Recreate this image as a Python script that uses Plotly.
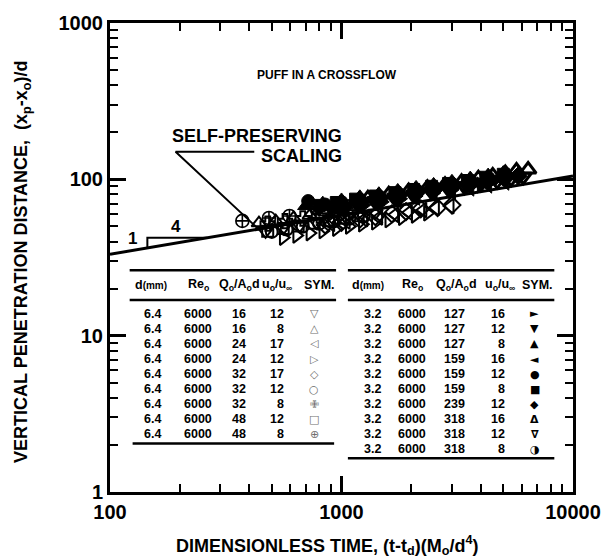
import plotly.graph_objects as go

# ---------------- data ----------------
# open symbols: d = 6.4 mm
s1_x = [470, 560, 660, 780, 900, 1050, 1200, 1400]            # 16 / 12
s1_y = [46.5, 48.8, 50.5, 53.0, 54.8, 56.7, 58.5, 61.0]
s2_x = [440, 520, 620, 730, 860, 1000, 1150]                  # 16 / 8
s2_y = [52.5, 54.0, 56.5, 58.8, 61.5, 63.5, 66.5]
s3_x = [900, 1050, 1250, 1450, 1700, 1950, 2250, 2550, 2950]  # 24 / 17
s3_y = [51.8, 53.8, 55.5, 57.0, 59.3, 61.3, 63.6, 65.6, 67.3]
s4_x = [560, 640, 730, 830, 950, 1080, 1230, 1400, 1600, 1830, 2080, 2350]  # 24 / 12
s4_y = [42.4, 43.8, 45.3, 46.7, 48.4, 50.0, 51.6, 53.2, 55.0, 56.9, 58.8, 60.7]
s5_x = [850, 1000, 1200, 1400, 1650, 1900, 2200, 2600, 3000]  # 32 / 17
s5_y = [51.0, 53.1, 55.6, 57.7, 60.1, 62.2, 64.7, 65.9, 68.4]
s6_x = [500, 580, 680, 800, 930, 1080, 1250]                  # 32 / 12
s6_y = [46.1, 47.8, 49.8, 51.9, 53.9, 56.0, 58.0]
s7_x = [480, 570, 680, 800, 950, 1100]                        # 32 / 8
s7_y = [52.1, 54.0, 56.2, 58.6, 61.2, 63.5]
s8_x = [480, 560, 650, 760, 880, 1020, 1180]                  # 48 / 12
s8_y = [46.6, 48.5, 50.3, 52.3, 54.3, 56.3, 58.5]
s9_x = [373, 486, 596, 777, 950]                              # 48 / 8
s9_y = [54.2, 56.6, 58.3, 65.0, 67.0]
# filled symbols: d = 3.2 mm
f1_x = [900, 1050, 1250, 1500, 1800, 2100, 2500, 3000, 3500, 4000]          # 127 / 16
f1_y = [63.4, 65.8, 68.6, 71.8, 75.1, 78.1, 81.6, 85.5, 88.7, 91.9]
f2_x = [800, 950, 1150, 1400, 1700, 2050, 2450, 2900, 3400, 4000, 4600]     # 127 / 12
f2_y = [64.2, 67.0, 70.4, 73.7, 77.5, 81.2, 85.0, 88.7, 92.1, 96.0, 99.5]
f3_x = [700, 830, 1000, 1200, 1450, 1750, 2100, 2500, 3000, 3600, 4300, 5000]  # 127 / 8
f3_y = [67.5, 70.4, 73.8, 77.3, 80.9, 84.9, 88.8, 92.8, 97.1, 101.8, 106.4, 110.4]
f4_x = [1000, 1200, 1450, 1750, 2100, 2500, 3000, 3600, 4300, 5100]         # 159 / 16
f4_y = [63.7, 66.7, 69.9, 73.3, 76.7, 80.1, 83.9, 87.9, 91.9, 95.9]
f5_x = [718, 850, 1000, 1200, 1450, 1750, 2100, 2500, 3000, 3600]           # 159 / 12
f5_y = [72.6, 69.0, 71.5, 74.0, 77.5, 81.0, 85.2, 88.5, 93.0, 97.5]
f6_x = [800, 950, 1150, 1400, 1700, 2050, 2450, 2900, 3500, 4200, 5000]     # 159 / 8
f6_y = [68.1, 71.1, 74.7, 78.2, 82.2, 86.1, 90.2, 94.1, 98.3, 103.1, 107.7]
f7_x = [1000, 1200, 1450, 1750, 2100, 2500, 3000, 3600, 4300, 5100, 5800]   # 239 / 12
f7_y = [67.9, 71.1, 74.4, 78.1, 81.7, 85.3, 89.4, 93.6, 97.9, 102.1, 105.2]
f8_x = [1300, 1600, 1950, 2350, 2800, 3300, 3900, 4500, 5100, 5700, 6400]   # 318 / 16
f8_y = [75.6, 80.2, 84.3, 88.4, 92.3, 96.4, 101.5, 105.8, 110.0, 113.8, 115.5]
f9_x = [1400, 1700, 2050, 2450, 2900, 3400, 4000, 4700, 5400, 6100]         # 318 / 12
f9_y = [71.8, 75.5, 79.1, 82.8, 86.4, 89.7, 93.5, 97.4, 100.9, 103.9]
f10_x = [1200, 1450, 1750, 2100, 2500, 3000, 3600, 4300, 5000]              # 318 / 8
f10_y = [72.9, 76.3, 80.1, 83.8, 87.6, 91.7, 96.1, 100.4, 104.2]

# self-preserving scaling line (slope 1/4)
line_x = [100, 10000]
line_y = [33.2, 105.0]
# slope triangle and leader lines
tri_x = [145, 145, 263]
tri_y = [36.5, 42.3, 42.3]
lead_x = [441, 192, 420]
lead_y = [47.6, 150, 150]

# table contents
left_d = ["6.4"] * 9
left_re = ["6000"] * 9
left_q = ["16", "16", "24", "24", "32", "32", "32", "48", "48"]
left_u = ["12", "8", "17", "12", "17", "12", "8", "12", "8"]
left_sym = ["▽", "△", "◁", "▷", "◇", "○", "✙", "□", "⊕"]
right_d = ["3.2"] * 10
right_re = ["6000"] * 10
right_q = ["127", "127", "127", "159", "159", "159", "239", "318", "318", "318"]
right_u = ["16", "12", "8", "16", "12", "8", "12", "16", "12", "8"]
right_sym = ["►", "▼", "▲", "◄", "●", "■", "◆", "Δ", "∇", "◑"]

x_ticks = [100, 1000, 10000]
x_tick_text = ["100", "1000", "10000"]
y_ticks = [1, 10, 100, 1000]
y_tick_text = ["1", "10", "100", "1000"]

# ---------------- figure ----------------
W, H = 613, 559
L, R, T, B = 110, 581, 18, 492
FONT = "Liberation Sans, Arial, Helvetica, sans-serif"
SYMFONT = "DejaVu Sans, sans-serif"


def px(x):
    return (x - L) / (R - L)


def py(y):
    return (B - y) / (B - T)


fig = go.Figure()

series = [
    (s1_x, s1_y, "triangle-down-open", 13, 2),
    (s2_x, s2_y, "triangle-up-open", 13, 2),
    (s3_x, s3_y, "triangle-left-open", 13, 2),
    (s4_x, s4_y, "triangle-right-open", 13, 2),
    (s5_x, s5_y, "diamond-open", 13, 2),
    (s6_x, s6_y, "circle-open", 12, 2),
    (s7_x, s7_y, "cross-open", 12, 2),
    (s8_x, s8_y, "square-open", 11, 2),
    (s9_x, s9_y, "circle-cross-open", 13, 1.6),
    (f1_x, f1_y, "triangle-right", 14, 1),
    (f2_x, f2_y, "triangle-down", 14, 1),
    (f3_x, f3_y, "triangle-up", 14, 1),
    (f4_x, f4_y, "triangle-left", 14, 1),
    (f5_x, f5_y, "circle", 13, 1),
    (f6_x, f6_y, "square", 12, 1),
    (f7_x, f7_y, "diamond", 14, 1),
    (f8_x, f8_y, "triangle-up-open", 14, 3),
    (f9_x, f9_y, "triangle-down-open", 14, 3),
    (f10_x, f10_y, "circle-open-dot", 13, 3),
]
for xs, ys, sym, size, lw in series:
    fig.add_trace(go.Scatter(
        x=xs, y=ys, mode="markers",
        marker=dict(symbol=sym, size=size, color="black",
                    line=dict(color="black", width=lw)),
        showlegend=False, hoverinfo="skip"))

fig.add_trace(go.Scatter(x=line_x, y=line_y, mode="lines",
                         line=dict(color="black", width=3),
                         showlegend=False, hoverinfo="skip"))
fig.add_trace(go.Scatter(x=tri_x, y=tri_y, mode="lines",
                         line=dict(color="black", width=2),
                         showlegend=False, hoverinfo="skip"))
fig.add_trace(go.Scatter(x=lead_x, y=lead_y, mode="lines",
                         line=dict(color="black", width=2),
                         showlegend=False, hoverinfo="skip"))

ann = []


def txt(x, y, s, size=12.5, xanchor="center", color="black", family=FONT,
        weight="bold", angle=0):
    ann.append(dict(x=px(x), y=py(y), xref="paper", yref="paper", text=s,
                    showarrow=False, xanchor=xanchor, yanchor="middle",
                    textangle=angle,
                    font=dict(family=family, size=size, color=color, weight=weight)))


txt(331, 71, "PUFF IN A CROSSFLOW", 12)
txt(348, 132, "SELF-PRESERVING", 18, "right")
txt(348, 152, "SCALING", 18, "right")
txt(133, 236, "1", 17)
txt(177, 224, "4", 17)

# axis titles
txt(331, 546, "DIMENSIONLESS TIME, (t-t<sub>d</sub>)(M<sub>o</sub>/d<sup>4</sup>)", 18)
txt(21, 260, "VERTICAL PENETRATION DISTANCE,  (x<sub>p</sub>-x<sub>o</sub>)/d", 18, angle=-90)

shapes = []


def hline(x0, x1, y):
    shapes.append(dict(type="line", xref="paper", yref="paper",
                       x0=px(x0), x1=px(x1), y0=py(y), y1=py(y),
                       line=dict(color="black", width=2.5)))


hdr_d = "d<span style='font-size:10px'>(mm)</span>"
hdr_re = "Re<sub>o</sub>"
hdr_q = "Q<sub>o</sub>/A<sub>o</sub>d"
hdr_u = "u<sub>o</sub>/u<sub>∞</sub>"
hdr_s = "SYM."

# left table
hline(130, 340, 268)
hline(130, 340, 298)
hline(133, 338, 443)
for xc, s in [(152, hdr_d), (200, hdr_re), (242, hdr_q), (280, hdr_u), (323, hdr_s)]:
    txt(xc, 283, s)
for i in range(len(left_d)):
    yy = 312 + 15.2 * i
    txt(153, yy, left_d[i])
    txt(200, yy, left_re[i])
    txt(241, yy, left_q[i])
    txt(289, yy, left_u[i], xanchor="right")
    txt(318, yy, left_sym[i], 11, color="#6e6e6e", family=SYMFONT, weight="normal")

# right table
hline(352, 562, 268)
hline(352, 562, 298)
hline(352, 562, 458)
for xc, s in [(372, hdr_d), (418, hdr_re), (462, hdr_q), (507, hdr_u), (545, hdr_s)]:
    txt(xc, 283, s)
for i in range(len(right_d)):
    yy = 312 + 15.2 * i
    txt(377, yy, right_d[i])
    txt(417, yy, right_re[i])
    txt(460, yy, right_q[i])
    txt(514, yy, right_u[i], xanchor="right")
    txt(542, yy, right_sym[i], 11, family=SYMFONT, weight="bold")

minor_x = [m * 10 ** e for e in (2, 3) for m in range(2, 10)]
minor_y = [m * 10 ** e for e in (0, 1, 2) for m in range(2, 10)]

axis_common = dict(
    type="log", showgrid=False, zeroline=False,
    showline=True, linecolor="black", linewidth=3, mirror="allticks",
    ticks="inside", ticklen=16, tickwidth=3, tickcolor="black",
    tickfont=dict(family=FONT, size=20, color="black", weight="bold"),
)

fig.update_layout(
    width=W, height=H,
    margin=dict(l=L, r=W - R, t=T, b=H - B, pad=0),
    paper_bgcolor="white", plot_bgcolor="white",
    showlegend=False,
    annotations=ann, shapes=shapes,
    xaxis=dict(range=[2, 4], tickmode="array", tickvals=x_ticks, ticktext=x_tick_text,
               minor=dict(tickmode="array", tickvals=minor_x, ticks="inside",
                          ticklen=8, tickwidth=2, tickcolor="black", showgrid=False),
               **axis_common),
    yaxis=dict(range=[0, 3], tickmode="array", tickvals=y_ticks, ticktext=y_tick_text,
               minor=dict(tickmode="array", tickvals=minor_y, ticks="inside",
                          ticklen=8, tickwidth=2, tickcolor="black", showgrid=False),
               **axis_common),
)

fig.write_html("out.html", config={"displayModeBar": False},
               post_script="document.body.style.margin='0px';document.body.style.overflow='hidden';")
